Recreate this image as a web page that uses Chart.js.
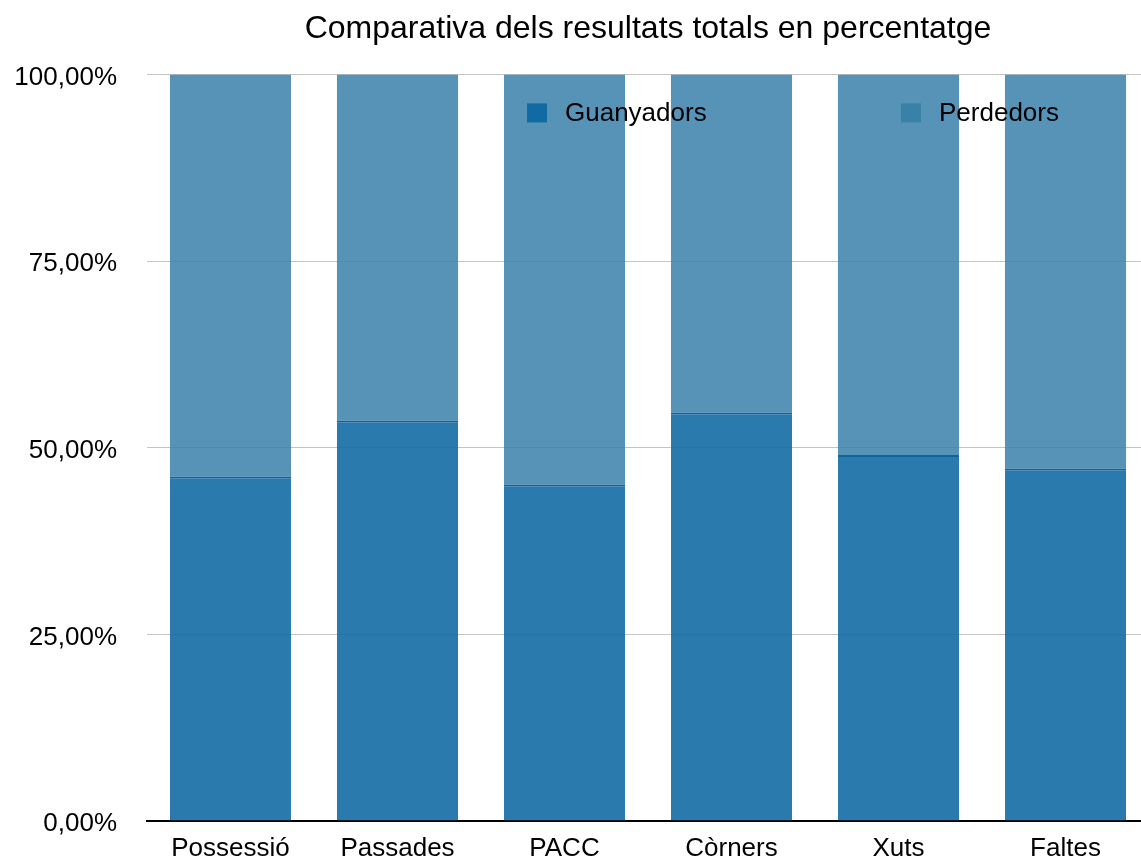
<!DOCTYPE html>
<html>
<head>
<meta charset="utf-8">
<script src="https://cdn.jsdelivr.net/npm/chart.js@4/dist/chart.umd.min.js"></script>
<style>
  html, body { margin: 0; padding: 0; overflow: hidden; background: #fff; }
  #wrap { width: 1160px; height: 862px; position: relative; }
</style>
</head>
<body>
<div id="wrap"><canvas id="c" width="1160" height="862"></canvas></div>
<script>
const categories = ['Possessió', 'Passades', 'PACC', 'Còrners', 'Xuts', 'Faltes'];
const guanyadors = [46.18, 53.68, 45.10, 54.75, 49.03, 47.25];
const perdedors  = [53.82, 46.32, 54.90, 45.25, 50.97, 52.75];
const yTickLabels = ['0,00%', '25,00%', '50,00%', '75,00%', '100,00%'];
const seriesNames = ['Guanyadors', 'Perdedors'];
const titleText = 'Comparativa dels resultats totals en percentatge';

const FONT = "'Liberation Sans', Arial, Helvetica, sans-serif";
const legendColors = ['rgb(16,106,164)', 'rgb(58,129,170)'];

const insideLegend = {
  id: 'insideLegend',
  afterDatasetsDraw(chart) {
    const ctx = chart.ctx;
    const a = chart.chartArea;
    const offsets = [380, 754];
    ctx.save();
    ctx.font = '26px ' + FONT;
    ctx.textBaseline = 'middle';
    ctx.textAlign = 'left';
    chart.data.datasets.forEach((ds, i) => {
      const bx = a.left + offsets[i];
      const by = a.top + 29;
      ctx.fillStyle = ds.legendColor;
      ctx.fillRect(bx, by, 20, 19);
      ctx.fillStyle = '#000';
      ctx.fillText(ds.label, bx + 38, a.top + 39);
    });
    ctx.restore();
  }
};

new Chart(document.getElementById('c'), {
  type: 'bar',
  data: {
    labels: categories,
    datasets: [
      {
        label: seriesNames[0],
        data: guanyadors,
        backgroundColor: 'rgba(16,106,164,0.89)',
        borderColor: 'rgb(14,100,156)',
        borderWidth: { top: 2, left: 0, right: 0, bottom: 0 },
        borderSkipped: 'start',
        legendColor: legendColors[0],
        categoryPercentage: 1,
        barPercentage: 0.725
      },
      {
        label: seriesNames[1],
        data: perdedors,
        backgroundColor: 'rgba(58,129,170,0.86)',
        borderWidth: 0,
        legendColor: legendColors[1],
        categoryPercentage: 1,
        barPercentage: 0.725
      }
    ]
  },
  options: {
    responsive: false,
    animation: false,
    layout: { padding: { left: 0, right: 11, top: 0, bottom: 0 } },
    plugins: {
      legend: { display: false },
      tooltip: { enabled: false },
      title: {
        display: true,
        text: titleText,
        fullSize: false,
        color: '#000',
        font: { family: FONT, size: 32, weight: 'normal' },
        padding: { top: 10, bottom: 26 }
      }
    },
    scales: {
      x: {
        stacked: true,
        grid: { display: false, drawTicks: false },
        border: { display: true, color: '#000', width: 2 },
        ticks: { color: '#000', font: { family: FONT, size: 26 }, padding: 12 },
        afterFit(s) { s.height = 41; }
      },
      y: {
        stacked: true,
        min: 0,
        max: 100,
        grid: { color: '#c4c4c4', lineWidth: 1, drawTicks: false },
        border: { display: false },
        ticks: {
          stepSize: 25,
          color: '#000',
          padding: 30,
          labelOffset: 3,
          font: { family: FONT, size: 26 },
          callback: (v, i) => yTickLabels[i]
        },
        afterFit(s) { s.width = 147; s.paddingTop = 0; s.paddingBottom = 0; }
      }
    }
  },
  plugins: [insideLegend]
});
</script>
</body>
</html>
